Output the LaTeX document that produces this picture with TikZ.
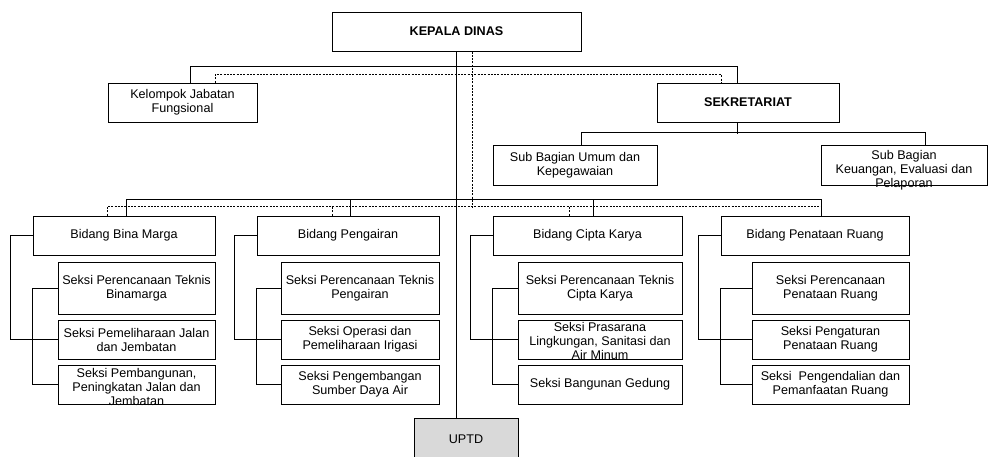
\documentclass[tikz,border=0pt]{standalone}
\usepackage{fontspec}
\setmainfont{Liberation Sans}
\definecolor{uptdgray}{RGB}{217,217,217}
\newcommand\lowtext[2]{\raisebox{#1}[0pt][0pt]{\begin{tabular}{@{}c@{}}#2\end{tabular}}}

\begin{document}
\begin{tikzpicture}[x=1pt, y=-1pt, line width=1pt,
        box/.style = {draw, align=center, inner sep=0pt, font=\fontsize{12.6}{14}\selectfont},
        head/.style = {box, font=\fontsize{12.6}{14}\selectfont\bfseries},
        dots/.style = {dash pattern=on 2pt off 1.3pt},]
        \useasboundingbox (0,0) rectangle (991,456);
        \clip (0,0) rectangle (991,456);

        \node[head, minimum width=249, minimum height=39] (kd) at (456.5,31.5) {KEPALA DINAS};
        \node[box, minimum width=149, minimum height=39] (kjf) at (182.5,102.5) {Kelompok Jabatan\\Fungsional};
        \node[head, minimum width=182, minimum height=39] (sek) at (748,102.5) {SEKRETARIAT};
        \node[box, minimum width=164, minimum height=40] (sbu) at (575,165) {Sub Bagian Umum dan\\Kepegawaian};
        \node[box, minimum width=166, minimum height=40] (skeu) at (904,165) {\lowtext{-8.9pt}{Sub Bagian\\Keuangan, Evaluasi dan\\Pelaporan}};

        \node[box, minimum width=182, minimum height=39] (bm) at (124,235.5) {Bidang Bina Marga};
        \node[box, minimum width=157, minimum height=52] (bm1) at (136.5,288) {Seksi Perencanaan Teknis\\Binamarga};
        \node[box, minimum width=157, minimum height=39] (bm2) at (136.5,339.5) {Seksi Pemeliharaan Jalan\\dan Jembatan};
        \node[box, minimum width=157, minimum height=39] (bm3) at (136.5,384.5) {\lowtext{-7.4pt}{Seksi Pembangunan,\\Peningkatan Jalan dan\\Jembatan}};

        \node[box, minimum width=182, minimum height=39] (pg) at (348,235.5) {Bidang Pengairan};
        \node[box, minimum width=158, minimum height=52] (pg1) at (360,288) {Seksi Perencanaan Teknis\\Pengairan};
        \node[box, minimum width=158, minimum height=39] (pg2) at (360,339.5) {Seksi Operasi dan\\Pemeliharaan Irigasi};
        \node[box, minimum width=158, minimum height=39] (pg3) at (360,384.5) {Seksi Pengembangan\\Sumber Daya Air};

        \node[box, minimum width=189, minimum height=39] (ck) at (587.5,235.5) {Bidang Cipta Karya};
        \node[box, minimum width=164, minimum height=52] (ck1) at (600,288) {Seksi Perencanaan Teknis\\Cipta Karya};
        \node[box, minimum width=164, minimum height=39] (ck2) at (600,339.5) {\lowtext{-6.4pt}{Seksi Prasarana\\Lingkungan, Sanitasi dan\\Air Minum}};
        \node[box, minimum width=164, minimum height=39] (ck3) at (600,384.5) {Seksi Bangunan Gedung};

        \node[box, minimum width=188, minimum height=39] (pr) at (815,235.5) {Bidang Penataan Ruang};
        \node[box, minimum width=157, minimum height=52] (pr1) at (830.5,288) {Seksi Perencanaan\\Penataan Ruang};
        \node[box, minimum width=157, minimum height=39] (pr2) at (830.5,339.5) {Seksi Pengaturan\\Penataan Ruang};
        \node[box, minimum width=157, minimum height=39] (pr3) at (830.5,384.5) {Seksi\ \ Pengendalian dan\\Pemanfaatan Ruang};

        \node[box, fill=uptdgray, minimum width=104, minimum height=42] (uptd) at (466,439) {UPTD};

        % garis komando
        \draw (kd.south) -- (kd.south |- uptd.north);
        \draw ([xshift=7.5pt]kjf.north) -- ++(0,-16) -| ([xshift=-11pt]sek.north);
        \draw ([xshift=-11pt]sek.south) -- ++(0,11);
        \draw ([xshift=6pt]sbu.north) -- ++(0,-12) -| ([xshift=21pt]skeu.north);
        \draw ([xshift=2pt]bm.north) -- ++(0,-16) -| ([xshift=6pt]pr.north);
        \draw ([xshift=2pt]pg.north) -- ++(0,-16);
        \draw ([xshift=5.5pt]ck.north) -- ++(0,-16);

        % garis koordinasi
        \draw[dots] ([xshift=32.5pt]kjf.north) -- ++(0,-8) -| ([xshift=-27pt]sek.north);
        \draw[dots] ([xshift=15.5pt]kd.south) -- ++(0,156);
        \draw[dots] ([xshift=-17pt]bm.north) -- ++(0,-9) -| ([xshift=6pt]pr.north);
        \draw[dots] ([xshift=-16pt]pg.north) -- ++(0,-9);
        \draw[dots] ([xshift=-18.5pt]ck.north) -- ++(0,-9);

        % seksi
        \draw (bm.west) -- ++(-22,0) |- (bm2.west);
        \draw (bm1.west) -- (bm1.west -| bm.west) |- (bm3.west);
        \draw (pg.west) -- ++(-22,0) |- (pg2.west);
        \draw (pg1.west) -- (pg1.west -| pg.west) |- (pg3.west);
        \draw (ck.west) -- ++(-22,0) |- (ck2.west);
        \draw (ck1.west) -- (ck1.west -| ck.west) |- (ck3.west);
        \draw (pr.west) -- ++(-22,0) |- (pr2.west);
        \draw (pr1.west) -- (pr1.west -| pr.west) |- (pr3.west);

\end{tikzpicture}
\end{document}
